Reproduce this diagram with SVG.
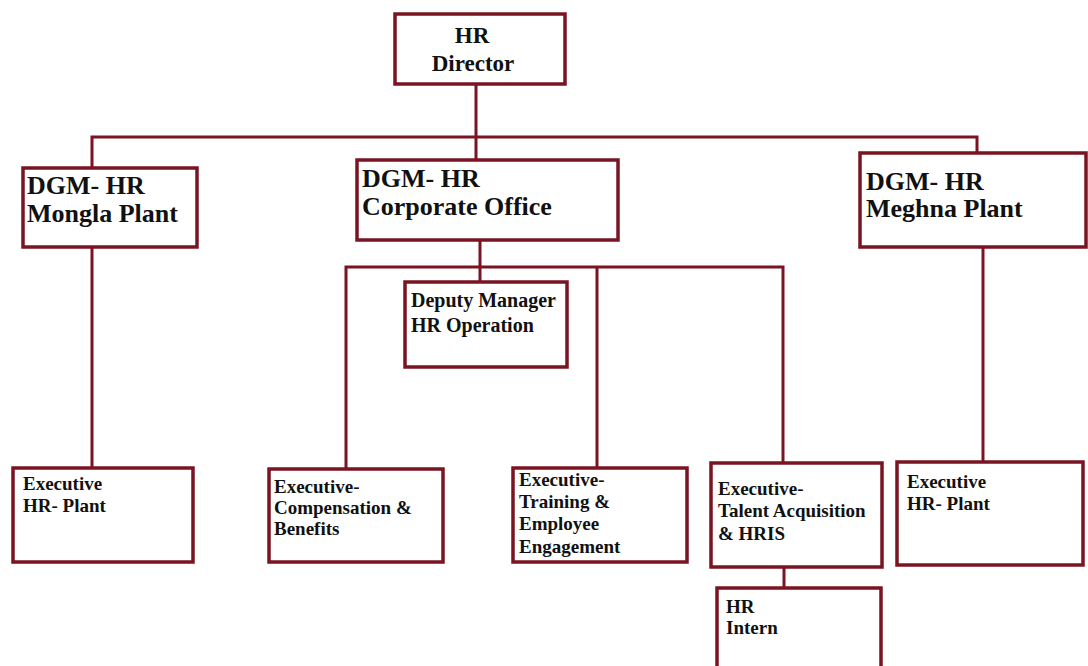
<svg xmlns="http://www.w3.org/2000/svg" width="1088" height="666" viewBox="0 0 1088 666">
  <style>
    .box { fill: #ffffff; stroke: #7a1422; stroke-width: 3.5; }
    .link { fill: none; stroke: #7a1422; stroke-width: 3; }
    text { font-family: "Liberation Serif", "Times New Roman", serif; font-weight: bold; fill: #111111; }
    .t1 { font-size: 23px; }
    .t2 { font-size: 26px; }
    .t3 { font-size: 20px; }
    .t4 { font-size: 19px; }
  </style>
  <rect width="1088" height="666" fill="#ffffff"/>

  <g id="connectors">
    <!-- director to the three DGMs -->
    <path class="link" d="M476 84 V137 M92 168 V137 H977 V153 M476 137 V160"/>
    <!-- Mongla DGM to its executive -->
    <path class="link" d="M92 247 V468"/>
    <!-- Meghna DGM to its executive -->
    <path class="link" d="M983 247 V462"/>
    <!-- corporate office branch -->
    <path class="link" d="M480 240 V282 M346 468 V267 H783 V463 M597 267 V468"/>
    <!-- talent acquisition to intern -->
    <path class="link" d="M784 567 V588"/>
  </g>

  <g id="hr-director">
    <rect class="box" x="395" y="14" width="170" height="70"/>
    <text class="t1" x="472" y="43" text-anchor="middle">HR</text>
    <text class="t1" x="473" y="71" text-anchor="middle">Director</text>
  </g>

  <g id="dgm-mongla">
    <rect class="box" x="23" y="168" width="174" height="79"/>
    <text class="t2" x="27" y="194">DGM- HR</text>
    <text class="t2" x="27" y="222">Mongla Plant</text>
  </g>

  <g id="dgm-corporate">
    <rect class="box" x="357" y="160" width="261" height="80"/>
    <text class="t2" x="362" y="187">DGM- HR</text>
    <text class="t2" x="362" y="215">Corporate Office</text>
  </g>

  <g id="dgm-meghna">
    <rect class="box" x="860" y="153" width="226" height="94"/>
    <text class="t2" x="866" y="190">DGM- HR</text>
    <text class="t2" x="866" y="217">Meghna Plant</text>
  </g>

  <g id="deputy-manager">
    <rect class="box" x="405" y="282" width="162" height="85"/>
    <text class="t3" x="411" y="307">Deputy Manager</text>
    <text class="t3" x="411" y="332">HR Operation</text>
  </g>

  <g id="exec-mongla">
    <rect class="box" x="13" y="468" width="180" height="94"/>
    <text class="t4" x="23" y="490">Executive</text>
    <text class="t4" x="23" y="512">HR- Plant</text>
  </g>

  <g id="exec-compensation">
    <rect class="box" x="269" y="469" width="174" height="93"/>
    <text class="t4" x="274" y="493">Executive-</text>
    <text class="t4" x="274" y="514">Compensation &amp;</text>
    <text class="t4" x="274" y="535">Benefits</text>
  </g>

  <g id="exec-training">
    <rect class="box" x="513" y="468" width="174" height="94"/>
    <text class="t4" x="519" y="486">Executive-</text>
    <text class="t4" x="519" y="508">Training &amp;</text>
    <text class="t4" x="519" y="530">Employee</text>
    <text class="t4" x="519" y="553">Engagement</text>
  </g>

  <g id="exec-talent">
    <rect class="box" x="711" y="463" width="171" height="104"/>
    <text class="t4" x="718" y="495">Executive-</text>
    <text class="t4" x="718" y="517">Talent Acquisition</text>
    <text class="t4" x="718" y="540">&amp; HRIS</text>
  </g>

  <g id="exec-meghna">
    <rect class="box" x="897" y="462" width="186" height="103"/>
    <text class="t4" x="907" y="488">Executive</text>
    <text class="t4" x="907" y="510">HR- Plant</text>
  </g>

  <g id="hr-intern">
    <rect class="box" x="717" y="588" width="164" height="90"/>
    <text class="t4" x="726" y="613">HR</text>
    <text class="t4" x="726" y="634">Intern</text>
  </g>
</svg>
